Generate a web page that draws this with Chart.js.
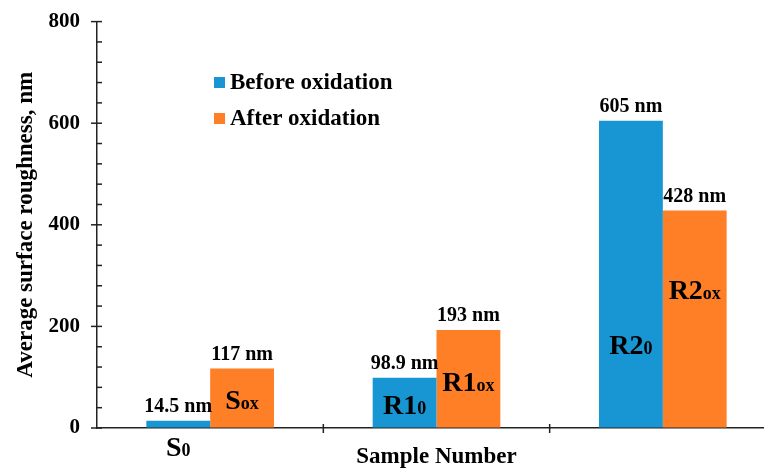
<!DOCTYPE html>
<html lang="en">
<head>
<meta charset="UTF-8">
<title>Surface roughness</title>
<script src="https://cdn.jsdelivr.net/npm/chart.js"></script>
<style>
  html, body { margin: 0; padding: 0; background: #fff; overflow: hidden; }
  #box { width: 790px; height: 471px; }
</style>
</head>
<body>
<div id="box"><canvas id="myChart" width="790" height="471"></canvas></div>

<script>
// data
const categories = ['S', 'R1', 'R2'];
const seriesNames = ['Before oxidation', 'After oxidation'];
const beforeValues = [14.5, 98.9, 605];
const afterValues = [117, 193, 428];
const beforeTags = ['0', '0', '0'];      // subscript part of the sample name
const afterTags = ['ox', 'ox', 'ox'];
const yMin = 0, yMax = 800, yMajor = 200, yMinor = 40;

// where the sample names sit (in axis units), kept apart from the data
const beforeTagAt = [-37, 45, 163];
const afterTagAt = [55, 90, 272];

const BLUE = '#1796D3';
const ORANGE = '#FF7F27';
const FONT = '"Liberation Serif", "Times New Roman", serif';

function drawTag(ctx, main, sub, x, cy) {
  ctx.font = 'bold 28px ' + FONT;
  const w1 = ctx.measureText(main).width;
  ctx.font = 'bold 18px ' + FONT;
  const w2 = ctx.measureText(sub).width;
  const left = x - (w1 + w2) / 2;
  const base = cy + 9;
  ctx.textAlign = 'left';
  ctx.textBaseline = 'alphabetic';
  ctx.font = 'bold 28px ' + FONT;
  ctx.fillText(main, left, base);
  ctx.font = 'bold 18px ' + FONT;
  ctx.fillText(sub, left + w1, base);
}

const extras = {
  id: 'extras',
  afterDraw(chart) {
    const ctx = chart.ctx;
    const xs = chart.scales.x, ys = chart.scales.y;
    const area = chart.chartArea;
    ctx.save();
    ctx.strokeStyle = '#222';
    ctx.lineWidth = 1.5;

    // y tick marks: major cross the axis, minor point inward
    ys.ticks.forEach(t => {
      const y = ys.getPixelForValue(t.value);
      const major = t.value % yMajor === 0;
      ctx.beginPath();
      ctx.moveTo(area.left - (major ? 6 : 0), y);
      ctx.lineTo(area.left + 5, y);
      ctx.stroke();
    });

    // x tick marks at category boundaries
    const step = xs.getPixelForValue(1) - xs.getPixelForValue(0);
    for (let i = 0; i < categories.length; i++) {
      const x = xs.getPixelForValue(i) + step / 2;
      ctx.beginPath();
      ctx.moveTo(x, area.bottom - 4);
      ctx.lineTo(x, area.bottom + 5);
      ctx.stroke();
    }

    // value labels and sample names
    ctx.fillStyle = '#000';
    const tags = [beforeTags, afterTags];
    const tagAt = [beforeTagAt, afterTagAt];
    chart.data.datasets.forEach((ds, d) => {
      const meta = chart.getDatasetMeta(d);
      meta.data.forEach((bar, i) => {
        ctx.font = 'bold 20px ' + FONT;
        ctx.textAlign = 'center';
        ctx.textBaseline = 'alphabetic';
        ctx.fillText(ds.data[i] + ' nm', bar.x, bar.y - 9);
        drawTag(ctx, categories[i], tags[d][i], bar.x, ys.getPixelForValue(tagAt[d][i]));
      });
    });

    // legend inside the plot
    const legendY = [89, 125];
    chart.data.datasets.forEach((ds, d) => {
      ctx.fillStyle = ds.backgroundColor;
      ctx.fillRect(214, legendY[d] - 12, 11, 11);
      ctx.fillStyle = '#000';
      ctx.font = 'bold 23px ' + FONT;
      ctx.textAlign = 'left';
      ctx.textBaseline = 'alphabetic';
      ctx.fillText(ds.label, 230, legendY[d]);
    });
    ctx.restore();
  }
};

const config = {
  type: 'bar',
  data: {
    labels: categories,
    datasets: [
      { label: seriesNames[0], data: beforeValues, backgroundColor: BLUE },
      { label: seriesNames[1], data: afterValues, backgroundColor: ORANGE }
    ]
  },
  options: {
    responsive: false,
    animation: false,
    layout: { padding: { top: 0, right: 14, bottom: 0, left: 0 } },
    categoryPercentage: 0.564,
    barPercentage: 1,
    plugins: { legend: { display: false }, tooltip: { enabled: false } },
    scales: {
      x: {
        offset: true,
        grid: { display: false, drawTicks: false },
        border: { color: '#222', width: 1.5 },
        ticks: { display: false },
        title: {
          display: true, text: 'Sample Number', color: '#000',
          font: { family: FONT, size: 23, weight: 'bold' },
          padding: { top: 0, bottom: 0 }
        },
        afterFit: s => { s.height = 43; }
      },
      y: {
        min: yMin, max: yMax,
        grid: {
          display: true, drawOnChartArea: false, drawTicks: true,
          tickLength: 8, color: 'rgba(0,0,0,0)'
        },
        border: { color: '#222', width: 1.5 },
        ticks: {
          stepSize: yMinor, padding: 9, color: '#000', autoSkip: false,
          font: { family: FONT, size: 21, weight: 'bold' },
          callback: v => (v % yMajor === 0 ? v : '')
        },
        title: {
          display: true, text: 'Average surface roughness, nm', color: '#000',
          font: { family: FONT, size: 23, weight: 'bold' },
          padding: { top: 12, bottom: 0 }
        },
        afterFit: s => { s.width = 97; }
      }
    }
  },
  plugins: [extras]
};

let myChart = new Chart(document.getElementById('myChart'), config);
</script>
</body>
</html>
